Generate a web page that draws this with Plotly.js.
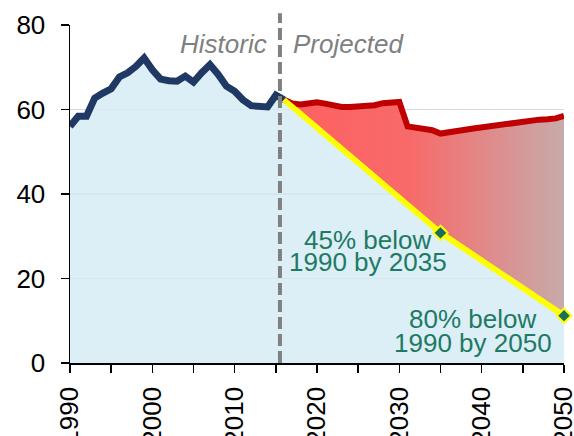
<!DOCTYPE html>
<html>
<head>
<meta charset="utf-8">
<script src="https://cdn.plot.ly/plotly-3.0.1.min.js"></script>
<style>html,body{margin:0;padding:0;background:#fff;}#chart{width:574px;height:436px;}</style>
</head>
<body>
<div id="chart"></div>
<script>
// Historic emissions
const histYears = [1990,1991,1992,1993,1994,1995,1996,1997,1998,1999,2000,2001,2002,2003,2004,2005,2006,2007,2008,2009,2010,2011,2012,2013,2014,2015,2016];
const histValues = [56.0,58.4,58.4,62.7,63.9,64.9,67.7,68.7,70.2,72.2,69.4,67.2,66.8,66.7,67.9,66.5,68.7,70.6,68.3,65.5,64.3,62.3,60.9,60.9,60.6,63.4,62.3];

// Projected emissions
const projYears = [2016,2017,2018,2019,2020,2021,2022,2023,2024,2025,2026,2027,2028,2029,2030,2031,2032,2033,2034,2035,2036,2037,2038,2039,2040,2041,2042,2043,2044,2045,2046,2047,2048,2049,2050];
const projValues = [62.3,61.4,61.2,61.4,61.7,61.4,61.0,60.6,60.6,60.7,60.6,61.0,61.5,61.7,61.8,56.0,55.7,55.4,55.1,54.3,54.7,55.0,55.2,55.5,55.8,56.0,56.2,56.5,56.9,57.1,57.3,57.6,57.7,57.9,58.5];

// Target pathway
const targetYears = [2016,2035,2050];
const targetValues = [62.3,30.8,11.2];
const markerYears = [2035,2050];
const markerValues = [30.8,11.2];

const dividerYear = 2015.5;
const xTickVals = [1990,2000,2010,2020,2030,2040,2050];
const xTickText = ['1990','2000','2010','2020','2030','2040','2050'];
const labelTexts = ['Historic','Projected'];
const target1 = ['45% below','1990 by 2035'];
const target2 = ['80% below','1990 by 2050'];

const FONT = 'Liberation Sans, Arial, sans-serif';
const blueFill = 'rgba(211,234,244,0.8)';
const teal = '#1E7A64';

const traces = [
  {x: histYears, y: histValues, mode:'lines', fill:'tozeroy', fillcolor: blueFill,
   line:{color:'#1F3864', width:7}, hoverinfo:'skip', showlegend:false},
  {x: targetYears, y: targetValues, mode:'lines', fill:'tozeroy', fillcolor: blueFill,
   line:{color:'#FFFF00', width:5.5}, hoverinfo:'skip', showlegend:false},
  {x: projYears, y: projValues, mode:'lines', fill:'tonexty',
   fillgradient:{type:'horizontal', colorscale:[[0,'#FF6060'],[0.45,'#F86A6A'],[1,'#C8AAAA']]},
   line:{color:'#C00000', width:6}, hoverinfo:'skip', showlegend:false, cliponaxis:false},
  {x: targetYears, y: targetValues, mode:'lines', line:{color:'#FFFF00', width:5.5},
   hoverinfo:'skip', showlegend:false, cliponaxis:false},
  {x: markerYears, y: markerValues, mode:'markers',
   marker:{symbol:'diamond', size:11, color:'#1B6E5A', line:{color:'#FFFF00', width:2}},
   hoverinfo:'skip', showlegend:false, cliponaxis:false}
];

const annots = [
  {x: 2014.2, y: 75.6, text: labelTexts[0], xanchor:'right', yanchor:'middle'},
  {x: 2016.9, y: 75.6, text: labelTexts[1], xanchor:'left', yanchor:'middle'}
].map(a => Object.assign(a, {xref:'x', yref:'y', showarrow:false,
   font:{family:FONT, size:26, color:'#808080', style:'italic'}}));

[[target1, 2026.15, [29.2, 23.8]], [target2, 2038.9, [10.4, 4.8]]].forEach(([lines, xc, ys]) => {
  lines.forEach((t, i) => annots.push({x: xc, y: ys[i], text: t, xref:'x', yref:'y',
    xanchor:'center', yanchor:'middle', showarrow:false,
    font:{family:FONT, size:26, color:teal}}));
});

const layout = {
  width:574, height:436,
  margin:{l:69.5, r:10, t:25, b:73.3, pad:0},
  paper_bgcolor:'#fff', plot_bgcolor:'#fff',
  font:{family:FONT, size:26, color:'#000'},
  xaxis:{range:[1990,2050], tickmode:'array', tickvals:xTickVals, ticktext:xTickText,
    ticks:'outside', ticklen:8, tickwidth:1.5,
    tickcolor:'#000', showline:true, linecolor:'#000', linewidth:1.5, showgrid:false,
    zeroline:false, tickangle:-90, ticklabelstandoff:4, ticklabeloverflow:'allow',
    minor:{dtick:5, tick0:1990, ticks:'outside', ticklen:8, tickwidth:1.5, tickcolor:'#000', showgrid:false},
    tickfont:{family:FONT, size:26, color:'#000'}},
  yaxis:{range:[0,80], dtick:20, ticks:'outside', ticklen:8, tickwidth:1.5, tickcolor:'#000',
    showline:true, linecolor:'#000', linewidth:1.5, showgrid:true, gridcolor:'#D9D9D9', gridwidth:1.5,
    zeroline:false, ticklabelstandoff:10,
    tickfont:{family:FONT, size:26, color:'#000'}},
  shapes:[{type:'line', xref:'x', yref:'paper', x0:dividerYear, x1:dividerYear, y0:0, y1:1.035,
    line:{color:'#808080', width:4, dash:'12px,5px'}, layer:'above'}],
  annotations: annots,
  showlegend:false
};

Plotly.newPlot('chart', traces, layout, {staticPlot:true, displayModeBar:false});
</script>
</body>
</html>
